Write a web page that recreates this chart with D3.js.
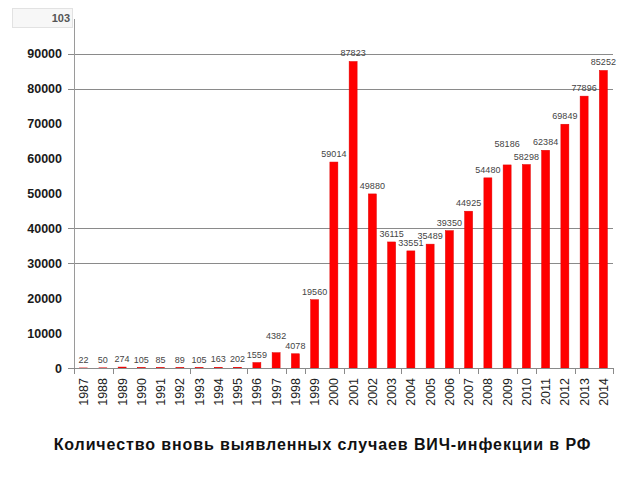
<!DOCTYPE html>
<html>
<head>
<meta charset="utf-8">
<script src="https://cdn.jsdelivr.net/npm/d3@7"></script>
<style>
  html, body { margin: 0; padding: 0; background: #fff; }
  svg { display: block; font-family: "Liberation Sans", Arial, sans-serif; }
</style>
</head>
<body>
<svg id="chart" width="640" height="480"></svg>
<script>
const years = ["1987","1988","1989","1990","1991","1992","1993","1994","1995","1996","1997","1998","1999","2000",
               "2001","2002","2003","2004","2005","2006","2007","2008","2009","2010","2011","2012","2013","2014"];
const cases = [22, 50, 274, 105, 85, 89, 105, 163, 202, 1559, 4382, 4078, 19560, 59014,
               87823, 49880, 36115, 33551, 35489, 39350, 44925, 54480, 58186, 58298, 62384, 69849, 77896, 85252];
const yTickValues = [0, 10000, 20000, 30000, 40000, 50000, 60000, 70000, 80000, 90000];
const gridValues = [30000, 40000, 80000, 90000];
const yTickMarks = [0, 30000, 40000, 80000, 90000];
const xTickBoundaries = [0, 2, 6, 9, 11, 12, 14, 17, 20, 21, 23, 24, 26, 28];
const title = "Количество вновь выявленных случаев ВИЧ-инфекции в РФ";
const cornerLabel = "103";

const svg = d3.select("#chart");
const m = { left: 74, right: 613, top: 19, bottom: 368 };

const x = d3.scaleBand().domain(years).range([m.left, m.right]).paddingInner(0).paddingOuter(0);
const y = d3.scaleLinear().domain([0, 100000]).range([m.bottom, m.top]);

// gridlines
svg.append("g").selectAll("line").data(gridValues).join("line")
  .attr("x1", m.left).attr("x2", m.right)
  .attr("y1", d => Math.round(y(d)) + 0.5).attr("y2", d => Math.round(y(d)) + 0.5)
  .attr("stroke", "#8a8a8a").attr("stroke-width", 1);

// y axis line
svg.append("line")
  .attr("x1", m.left + 0.5).attr("x2", m.left + 0.5)
  .attr("y1", m.top).attr("y2", m.bottom)
  .attr("stroke", "#9a9a9a");

// y tick marks
svg.append("g").selectAll("line").data(yTickMarks).join("line")
  .attr("x1", m.left - 6).attr("x2", m.left)
  .attr("y1", d => Math.round(y(d)) + 0.5).attr("y2", d => Math.round(y(d)) + 0.5)
  .attr("stroke", "#8a8a8a");

// y labels
svg.append("g").selectAll("text").data(yTickValues).join("text")
  .attr("x", 62).attr("y", d => y(d))
  .attr("dy", "0.36em")
  .attr("text-anchor", "end")
  .attr("font-size", 12.5)
  .attr("font-weight", "bold")
  .attr("fill", "#1a1a1a")
  .text(d => d);

// bars
const barW = 8;
svg.append("g").selectAll("rect").data(cases).join("rect")
  .attr("x", (d, i) => x(years[i]) + x.bandwidth() / 2 - barW / 2)
  .attr("y", d => y(d))
  .attr("width", barW)
  .attr("height", d => m.bottom - y(d))
  .attr("fill", "#ff0000")
  .attr("stroke", "#e00000")
  .attr("stroke-width", 0.5);

// x axis line
svg.append("line")
  .attr("x1", m.left).attr("x2", m.right)
  .attr("y1", m.bottom + 0.5).attr("y2", m.bottom + 0.5)
  .attr("stroke", "#8a8a8a");

// x tick marks
svg.append("g").selectAll("line").data(xTickBoundaries).join("line")
  .attr("x1", k => Math.round(m.left + k * x.step()) + 0.5)
  .attr("x2", k => Math.round(m.left + k * x.step()) + 0.5)
  .attr("y1", m.bottom).attr("y2", m.bottom + 6)
  .attr("stroke", "#8a8a8a");

// x labels
svg.append("g").selectAll("text").data(years).join("text")
  .attr("transform", d => `translate(${x(d) + x.bandwidth() / 2},378) rotate(-90)`)
  .attr("text-anchor", "end")
  .attr("dy", "0.36em")
  .attr("font-size", 12.5)
  .attr("fill", "#222")
  .text(d => d);

// value labels
const labelLift = { "1997": 9, "2009": 13 };
svg.append("g").selectAll("text").data(cases).join("text")
  .attr("x", (d, i) => x(years[i]) + x.bandwidth() / 2)
  .attr("y", (d, i) => y(d) - 5 - (labelLift[years[i]] || 0))
  .attr("text-anchor", "middle")
  .attr("font-size", 9)
  .attr("fill", "#444")
  .text(d => d);

// corner box
svg.append("rect")
  .attr("x", 12.5).attr("y", 8.5).attr("width", 60).attr("height", 19)
  .attr("fill", "#f7f7f7").attr("stroke", "#e2e2e2");
svg.append("text")
  .attr("x", 70).attr("y", 22)
  .attr("text-anchor", "end")
  .attr("font-size", 11).attr("font-weight", "bold")
  .attr("fill", "#555")
  .text(cornerLabel);

// title
svg.append("text")
  .attr("x", 322.5).attr("y", 450)
  .attr("text-anchor", "middle")
  .attr("font-size", 16).attr("font-weight", "bold")
  .attr("letter-spacing", 0.9)
  .attr("fill", "#111")
  .text(title);
</script>
</body>
</html>
